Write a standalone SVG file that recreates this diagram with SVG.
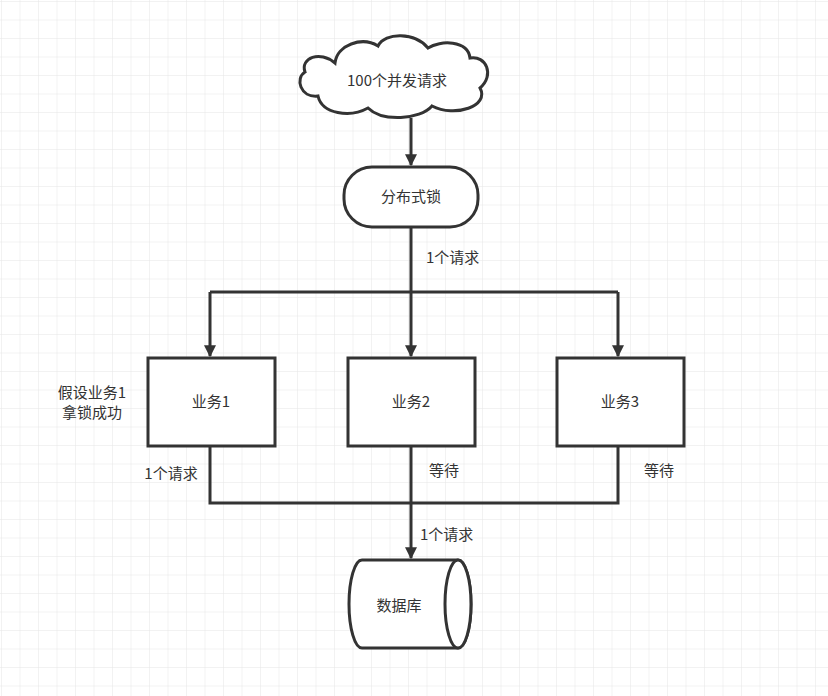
<svg xmlns="http://www.w3.org/2000/svg" width="828" height="696" viewBox="0 0 828 696">
<defs>
<pattern id="g" width="18.5" height="18.5" patternUnits="userSpaceOnUse" x="2" y="2"><path d="M18.5 0V18.5H0" fill="none" stroke="#e6e6e6" stroke-width="1"/></pattern>
<marker id="a" viewBox="0 0 10 10" refX="9" refY="5" markerWidth="4" markerHeight="4" orient="auto"><path d="M0 0L10 5L0 10z" fill="#333"/></marker>
<style>.s{fill:#fff;stroke:#333;stroke-width:3}.c{fill:none;stroke:#333;stroke-width:3}text{font-family:"Noto Sans CJK SC","Liberation Sans",sans-serif;font-size:15px;fill:#333}.m{text-anchor:middle}</style>
</defs>
<rect width="828" height="696" fill="#fff"/>
<rect width="828" height="696" fill="url(#g)"/>
<g id="connectors">
<path class="c" d="M411 118V165" marker-end="url(#a)"/>
<path class="c" d="M411 227V356" marker-end="url(#a)"/>
<path class="c" d="M210 292H618M210 292V356" marker-end="url(#a)"/>
<path class="c" d="M618 292V356" marker-end="url(#a)"/>
<path class="c" d="M210 446V503H618V446"/>
<path class="c" d="M411 446V558" marker-end="url(#a)"/>
</g>
<g id="cloud"><path class="s" d="M335 63C320 50 300 58 305 72C295 78 300 98 318 96C322 114 350 118 368 108C382 122 420 120 432 106C455 118 490 106 480 88C495 75 486 55 470 58C468 40 440 40 428 48C415 32 385 32 378 46C362 36 337 45 335 63Z"/><text class="m" x="397" y="86">100个并发请求</text></g>
<g id="lock"><rect class="s" x="344" y="167" width="134" height="60" rx="28"/><text class="m" x="411" y="202">分布式锁</text></g>
<text x="426" y="263">1个请求</text>
<g id="b1"><rect class="s" x="148" y="358" width="127" height="88"/><text class="m" x="211" y="407">业务1</text></g>
<g id="b2"><rect class="s" x="348" y="358" width="127" height="88"/><text class="m" x="411" y="407">业务2</text></g>
<g id="b3"><rect class="s" x="557" y="358" width="127" height="88"/><text class="m" x="620" y="407">业务3</text></g>
<text class="m" x="92" y="398">假设业务1</text>
<text class="m" x="92" y="418">拿锁成功</text>
<text class="m" x="171" y="479">1个请求</text>
<text class="m" x="444" y="476">等待</text>
<text class="m" x="659" y="476">等待</text>
<text x="420" y="540">1个请求</text>
<g id="db"><path class="s" d="M362 560H458A13 44 0 0 1 458 648H362A13 44 0 0 1 362 560Z"/><ellipse class="s" cx="458" cy="604" rx="13" ry="44"/><text class="m" x="399" y="611">数据库</text></g>
</svg>
